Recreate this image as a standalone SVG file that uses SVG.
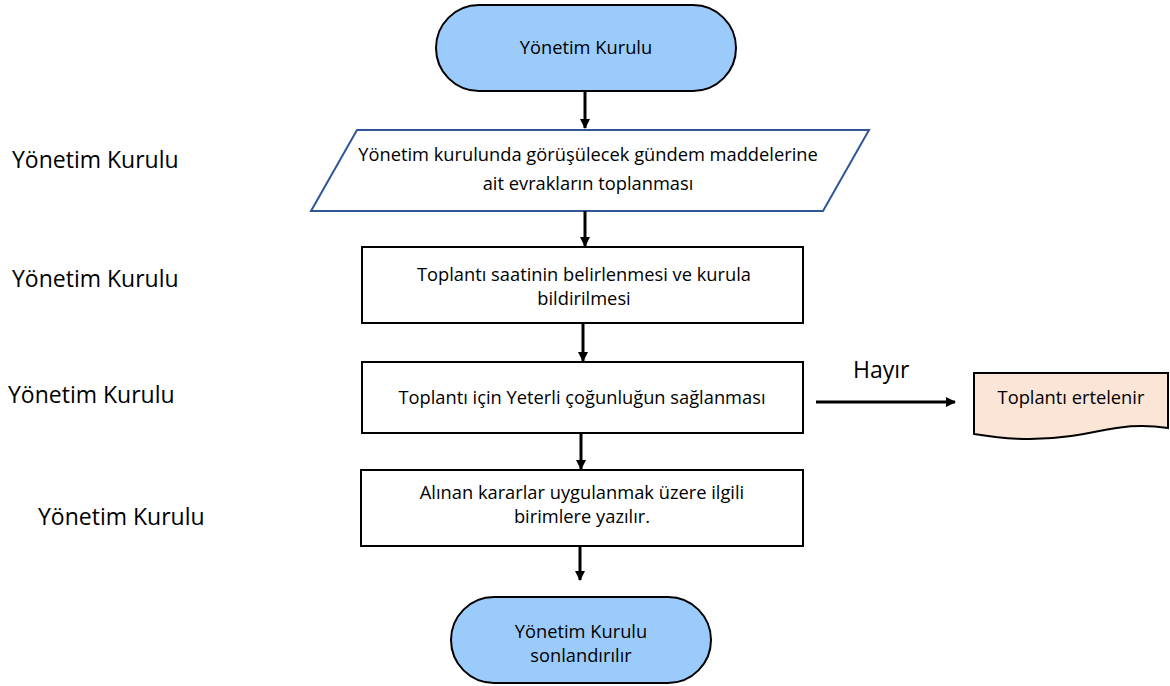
<svg xmlns="http://www.w3.org/2000/svg" width="1170" height="686" viewBox="0 0 1170 686">
<defs>
<marker id="ah" markerWidth="10" markerHeight="10" refX="9" refY="5" orient="auto" markerUnits="userSpaceOnUse" viewBox="0 0 10 10">
<path d="M0,0 L10,5 L0,10 z" fill="#000"/>
</marker>
<style>
text{font-family:"Open Sans","Noto Sans","Liberation Sans",sans-serif;fill:#000}
.t{font-size:18.3px;text-anchor:middle}
.lbl{font-size:23px}
.term{fill:#9BCBFB;stroke:#000;stroke-width:2}
.box{fill:#fff;stroke:#000;stroke-width:2}
.con{stroke:#000;stroke-width:3;fill:none;marker-end:url(#ah)}
</style>
</defs>
<rect width="1170" height="686" fill="#fff"/>
<g id="lanes">
<text class="lbl" x="12" y="168">Yönetim Kurulu</text>
<text class="lbl" x="12" y="287">Yönetim Kurulu</text>
<text class="lbl" x="8" y="403">Yönetim Kurulu</text>
<text class="lbl" x="38" y="525">Yönetim Kurulu</text>
</g>
<g id="start">
<rect class="term" x="436" y="5" width="300" height="86" rx="43"/>
<text class="t" x="586" y="54">Yönetim Kurulu</text>
</g>
<g id="collect">
<polygon points="357,130 869,130 823,211 311,211" fill="#fff" stroke="#2F5597" stroke-width="2"/>
<text class="t" x="588" y="161">Yönetim kurulunda görüşülecek gündem maddelerine</text>
<text class="t" x="588" y="190">ait evrakların toplanması</text>
</g>
<g id="time">
<rect class="box" x="362" y="247" width="441" height="76"/>
<text class="t" x="584" y="281">Toplantı saatinin belirlenmesi ve kurula</text>
<text class="t" x="584" y="305">bildirilmesi</text>
</g>
<g id="quorum">
<rect class="box" x="362" y="362" width="441" height="71"/>
<text class="t" x="582" y="404">Toplantı için Yeterli çoğunluğun sağlanması</text>
</g>
<g id="write">
<rect class="box" x="361" y="470" width="442" height="76"/>
<text class="t" x="582" y="499">Alınan kararlar uygulanmak üzere ilgili</text>
<text class="t" x="582" y="523">birimlere yazılır.</text>
</g>
<g id="end">
<rect class="term" x="451" y="597" width="260" height="86" rx="43"/>
<text class="t" x="581" y="638">Yönetim Kurulu</text>
<text class="t" x="581" y="662">sonlandırılır</text>
</g>
<g id="postpone">
<path d="M974,373 L1168,373 L1168,428 C1130,422 1110,430 1071,436 C1030,442 1000,438 974,434 Z" fill="#FBE5D6" stroke="#000" stroke-width="2"/>
<text class="t" x="1071" y="404">Toplantı ertelenir</text>
</g>
<g id="connectors">
<line class="con" x1="585" y1="91" x2="585" y2="128"/>
<line class="con" x1="585" y1="211" x2="585" y2="246"/>
<line class="con" x1="583" y1="323" x2="583" y2="361"/>
<line class="con" x1="581" y1="433" x2="581" y2="469"/>
<line class="con" x1="580" y1="546" x2="580" y2="580"/>
<line class="con" x1="816" y1="402" x2="955" y2="402"/>
<text x="853" y="378" style="font-size:23px">Hayır</text>
</g>
</svg>
